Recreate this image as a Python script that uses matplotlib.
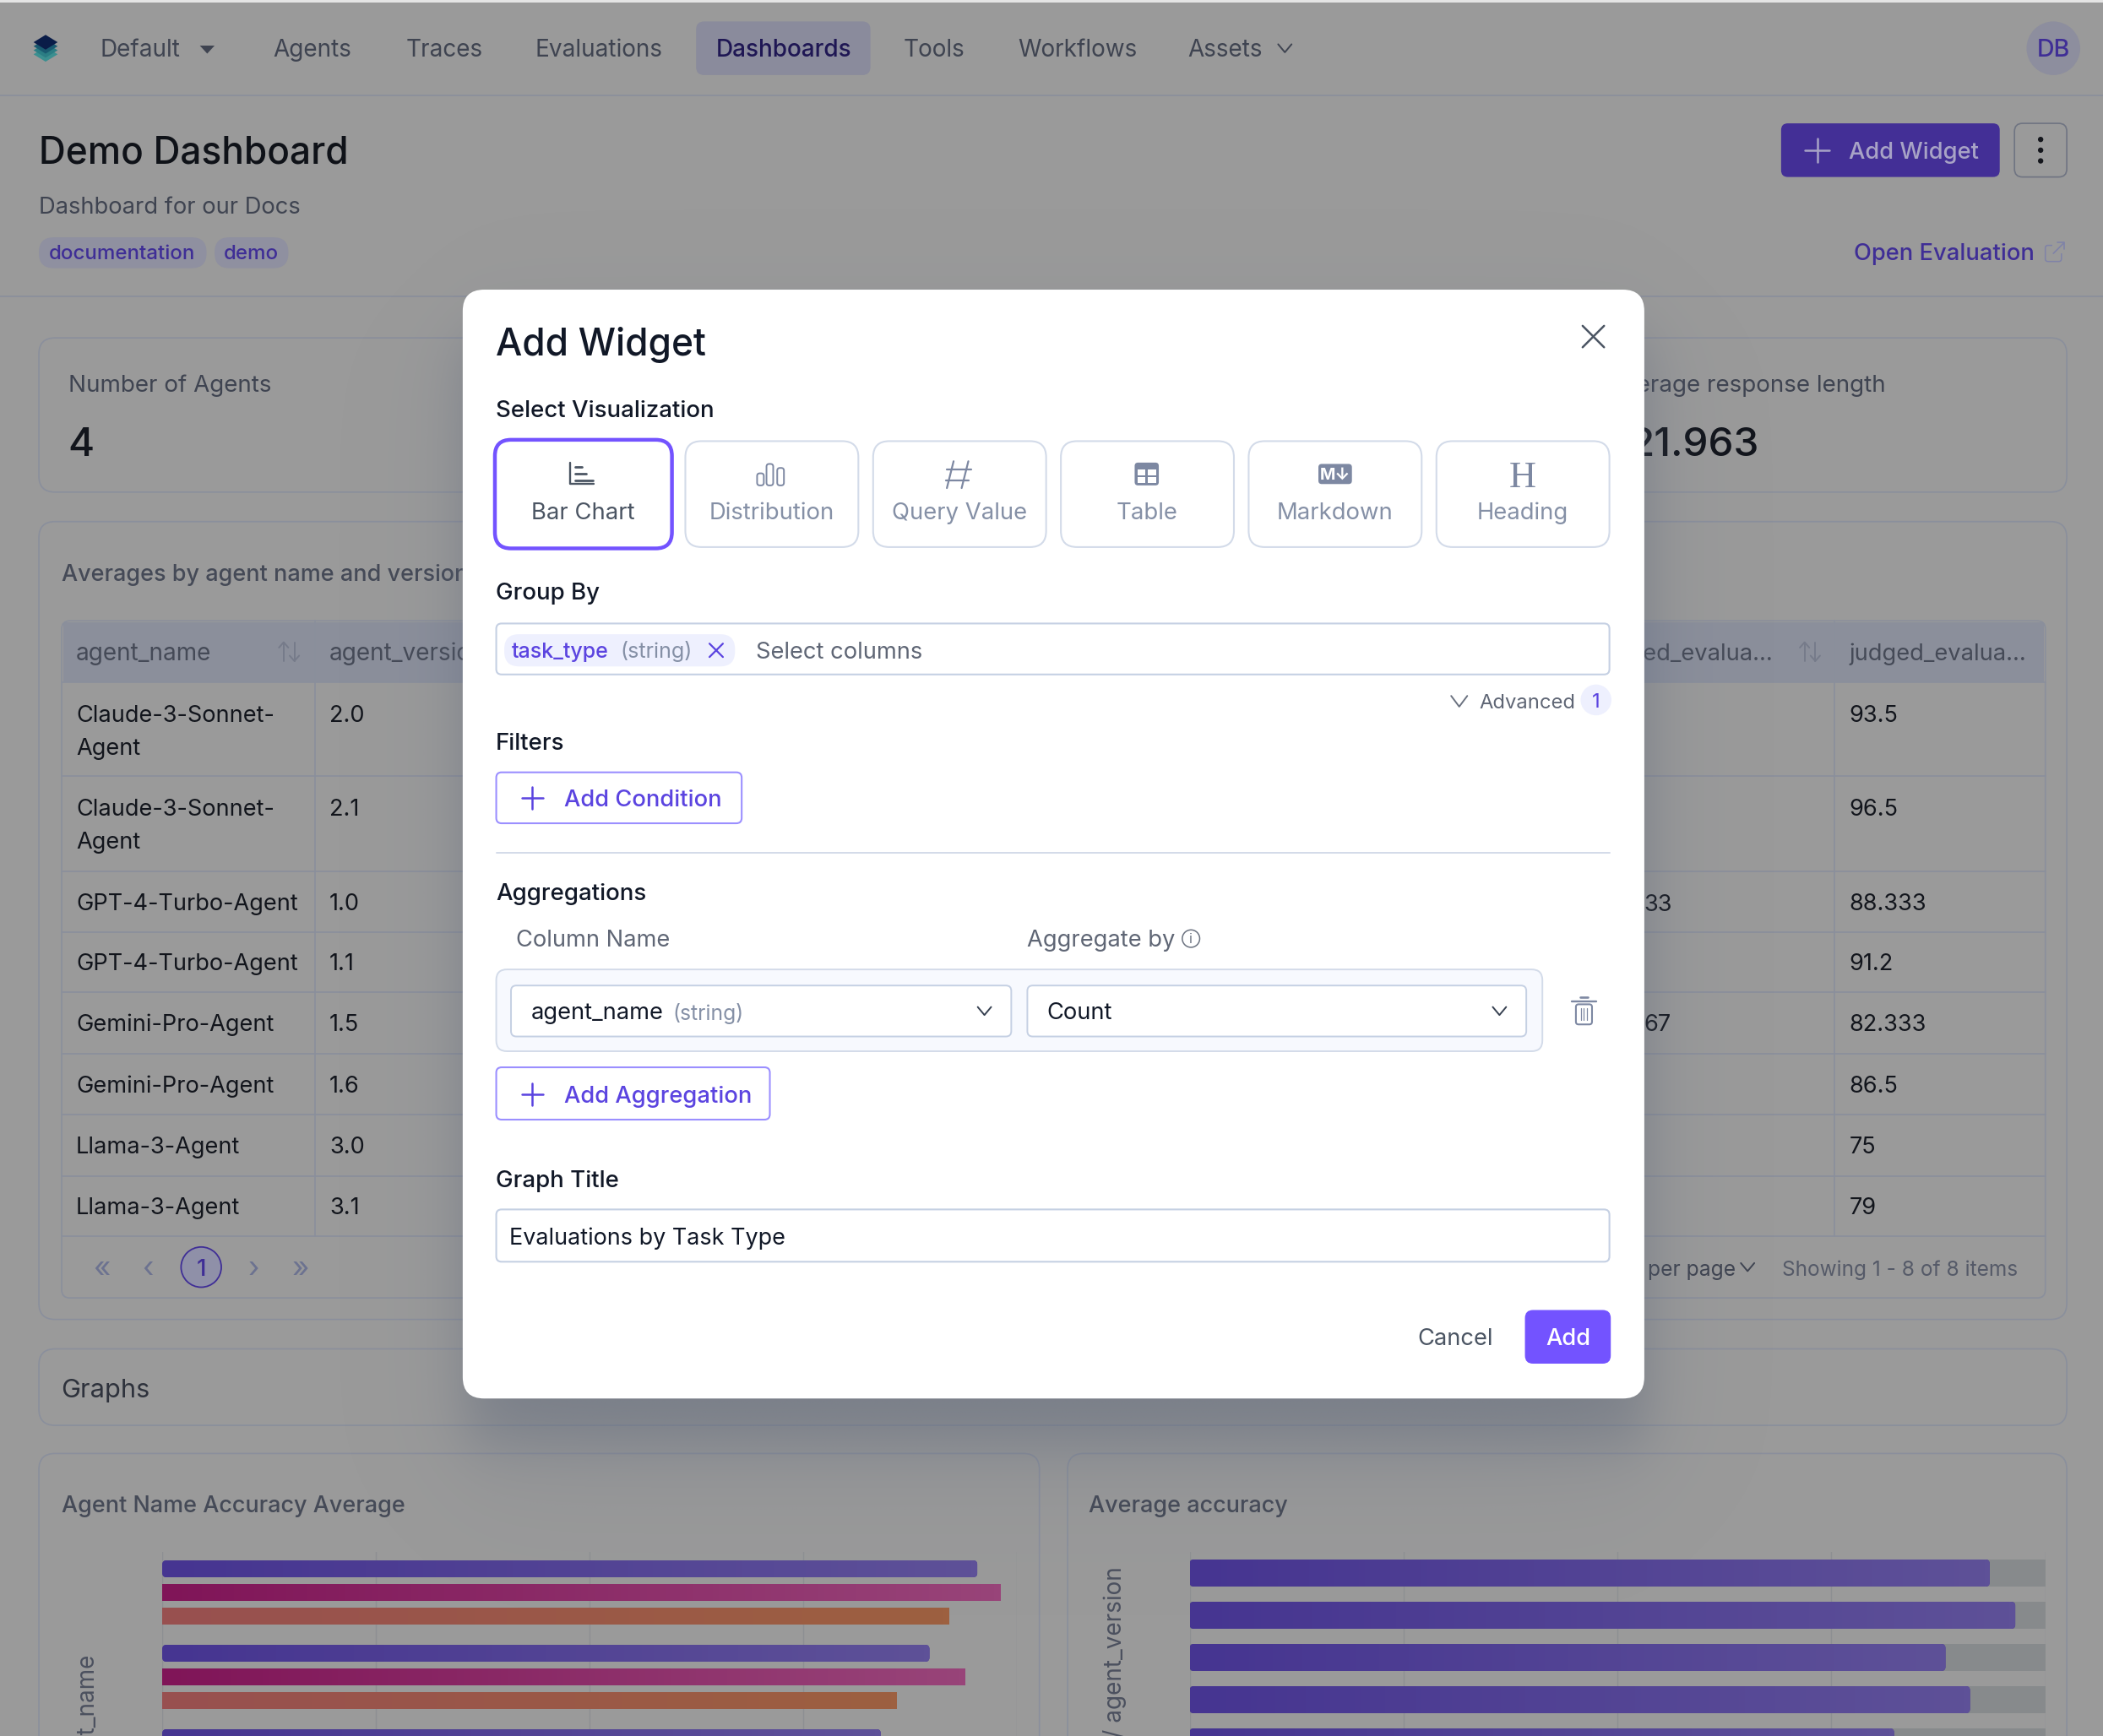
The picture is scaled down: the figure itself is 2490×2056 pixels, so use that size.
import numpy as np
import matplotlib
matplotlib.use("Agg")
import matplotlib.pyplot as plt
from matplotlib.patches import FancyBboxPatch, Circle, Polygon, Rectangle
from matplotlib.colors import LinearSegmentedColormap
from matplotlib.transforms import IdentityTransform

plt.rcParams['font.family'] = ['Inter', 'DejaVu Sans']

# ---------- data ----------
nav_items = ["Agents", "Traces", "Evaluations", "Dashboards", "Tools", "Workflows", "Assets"]
tags = ["documentation", "demo"]
agent_names = ["Claude-3-Sonnet-\nAgent", "Claude-3-Sonnet-\nAgent", "GPT-4-Turbo-Agent", "GPT-4-Turbo-Agent",
               "Gemini-Pro-Agent", "Gemini-Pro-Agent", "Llama-3-Agent", "Llama-3-Agent"]
agent_versions = ["2.0", "2.1", "1.0", "1.1", "1.5", "1.6", "3.0", "3.1"]
judged_labels = ["93.5", "96.5", "88.333", "91.2", "82.333", "86.5", "75", "79"]
judged_values = [93.5, 96.5, 88.333, 91.2, 82.333, 86.5, 75, 79]
viz_options = ["Bar Chart", "Distribution", "Query Value", "Table", "Markdown", "Heading"]
left_series_a = [95.4, 89.8, 84.1]
left_series_b = [98.1, 94.0]
left_series_c = [92.1, 86.0]
axis_ticks = [0, 25, 50, 75, 100]

# ---------- figure ----------
W, H = 2490, 2056
S = W / 1568.0
fig = plt.figure(figsize=(W / 100, H / 100), dpi=100, facecolor='#9a9a9a')
ax = fig.add_axes([0, 0, 1, 1])
ax.set_xlim(0, 1568)
ax.set_ylim(H / S, 0)
ax.axis('off')

BORDER = '#8a8f9c'
DARK = '#12151c'
MID = '#3f4451'
INDIGO = '#3f2e96'
VIOLET = '#5b44e0'
ACCENT = '#7353ff'
EDGE = '#d3dbe9'
MUTED = '#8590a6'
INK = '#111827'
GREY = '#5f6675'


def T(x, y, s, size=17.2, color=DARK, weight='normal', ha='left', z=3, **kw):
    if ha == 'left':
        x -= 0.3
    return ax.text(x, y + 0.36 * size, s, fontsize=size * S * 0.72, color=color, fontweight=weight,
                   ha=ha, va='baseline', zorder=z, **kw)


def RR(x0, y0, x1, y1, r=6, fc='none', ec='none', lw=1.2, z=1):
    p = FancyBboxPatch((x0 + r, y0 + r), x1 - x0 - 2 * r, y1 - y0 - 2 * r,
                       boxstyle=f"round,pad={r},rounding_size={r}", fc=fc, ec=ec, lw=lw, zorder=z)
    ax.add_patch(p)
    return p


def L(xs, ys, color, lw=1.2, z=3, **kw):
    ax.plot(xs, ys, color=color, lw=lw, zorder=z, solid_capstyle='round', **kw)


def plus(x, y, r, color, z=3):
    L([x - r, x + r], [y, y], color, 1.8, z)
    L([x, x], [y - r, y + r], color, 1.8, z)


def chevron(x, y, color, w=6, h=4, z=3, lw=1.4):
    L([x - w, x, x + w], [y - h, y + h, y - h], color, lw, z)


def cross(x, y, r, color, z=3, lw=1.8):
    L([x - r, x + r], [y - r, y + r], color, lw, z)
    L([x - r, x + r], [y + r, y - r], color, lw, z)


def sort_icon(x, y, color):
    L([x - 4, x - 4], [y - 7, y + 7], color, 1.4)
    L([x - 7.5, x - 4, x - 0.5], [y - 3, y - 7, y - 3], color, 1.4)
    L([x + 4, x + 4], [y - 7, y + 7], color, 1.4)
    L([x + 0.5, x + 4, x + 7.5], [y + 3, y + 7, y + 3], color, 1.4)


# ---------- page behind the modal ----------
ax.add_patch(Rectangle((0, 0), 1568, 1.6, fc='#e4e4e4', ec='none', zorder=1))
L([0, 1568], [71, 71], BORDER)
L([0, 1568], [221, 221], BORDER)

# logo
for dy, c in zip([9, 6, 3, 0], ['#3b8f90', '#2b7d84', '#1a5a70', '#0a1c48']):
    ax.add_patch(Polygon([(34, 26 + dy), (43, 31.5 + dy), (34, 37 + dy), (25, 31.5 + dy)], fc=c, ec='none', zorder=2))

NAV = 17.6
T(75, 36, "Default", size=NAV, color=MID)
ax.add_patch(Polygon([(149, 34), (160, 34), (154.5, 40)], fc=MID, ec='none', zorder=3))
RR(519, 16, 649, 56, r=6, fc='#8a8b9c')
nav_x = [204, 303, 399, 534, 674, 759, 886]
for name, x in zip(nav_items, nav_x):
    T(x, 36, name, size=NAV, color='#1f1754' if name == "Dashboards" else MID,
      weight='medium' if name == "Dashboards" else 'normal')
chevron(958, 36, MID, 5, 3)
ax.add_patch(Circle((1531, 36), 20, fc='#8d8e9e', ec='none', zorder=2))
T(1531, 36, "DB", size=18, color=INDIGO, ha='center', weight='medium')

T(29, 112, "Demo Dashboard", size=27.8, weight='medium', color='#0f1218')
T(29, 153, "Dashboard for our Docs", color=MID)
RR(29, 177, 154, 200, r=11, fc='#8f90a0')
RR(160, 177, 215, 200, r=11, fc='#8f90a0')
T(37, 188, tags[0], size=15.2, color=INDIGO, weight='medium')
T(167, 188, tags[1], size=15.2, color=INDIGO, weight='medium')

RR(1328, 92, 1491, 132, r=5, fc='#432f96')
plus(1355, 112, 9, '#a8a3c6')
T(1379, 112, "Add Widget", color='#a8a3c6', weight='medium')
RR(1502, 92, 1541, 132, r=6, ec='#6f7482')
for dy in (-8, 0, 8):
    ax.add_patch(Circle((1521.5, 112 + dy), 2, fc='#14161c', ec='none', zorder=3))
T(1517, 188, "Open Evaluation", size=17.2, color=INDIGO, ha='right', weight='medium')
RR(1525, 183, 1537, 195, r=2, ec='#7f82a8', lw=1.1)
ax.add_patch(Rectangle((1530, 180), 11, 9, fc='#9a9a9a', ec='none', zorder=3))
L([1531, 1539], [189, 181], '#7f82a8', 1.2, 4)
L([1534, 1539, 1539], [181, 181, 186], '#7f82a8', 1.2, 4)

# cards
RR(29, 252, 1541, 367, r=12, ec=BORDER)
T(51, 286, "Number of Agents", size=17.5, color=MID)
T(51, 329, "4", size=30, color=DARK, weight='medium')
T(1406, 286, "Average response length", size=17.5, color=MID, ha='right')
T(1312, 329, "21.963", size=30, color=DARK, ha='right', weight='medium')

RR(29, 389, 1541, 984, r=12, ec=BORDER)
T(46, 427, "Averages by agent name and version", size=17, color='#454a57', weight='medium')
row_y = [509, 579, 650, 695, 740, 786, 831, 877, 922]
ax.add_patch(Rectangle((47, 464), 1477, 45, fc='#8b8f9b', ec='none', zorder=1))
RR(46, 463, 1525, 968, r=6, ec=BORDER)
for y in row_y:
    L([46, 1525], [y, y], BORDER, z=2)
for x in (235, 1368):
    L([x, x], [463, 922], BORDER, z=2)
T(57, 486, "agent_name", size=17.6, color='#454a57')
T(246, 486, "agent_version", size=17.6, color='#454a57')
sort_icon(215.5, 486, '#767b8a')
T(1322, 486, "judged_evalua...", size=17.2, color='#454a57', ha='right')
sort_icon(1349.5, 486, '#767b8a')
T(1379, 486, "judged_evalua...", size=17.2, color='#454a57')
ROW = 17.1
for i, (name, ver, val) in enumerate(zip(agent_names, agent_versions, judged_labels)):
    first = 532 if i == 0 else 602 if i == 1 else (row_y[i] + row_y[i + 1]) / 2
    if '\n' in name:
        a, b = name.split('\n')
        T(57, first, a, size=ROW)
        T(57, first + 25, b, size=ROW)
    else:
        T(57, first, name, size=ROW)
    T(246, first, ver, size=ROW)
    T(1379, first, val, size=ROW)
T(1226, 673, "33", size=ROW)
T(1226, 763, "67", size=ROW)
for x, s in zip([76, 110, 189, 224], ["«", "‹", "›", "»"]):
    T(x, 944, s, size=22, color='#6c7290', ha='center')
ax.add_patch(Circle((150, 945), 15, fc='#8f90a8', ec='#3f2e96', lw=1.3, zorder=2))
T(150, 945, "1", color=INDIGO, ha='center', weight='medium')
T(1229, 946, "per page", size=15.5, color=MID)
chevron(1303, 945, MID, 5, 3)
T(1329, 946, "Showing 1 - 8 of 8 items", size=15.4, color='#555a68')

RR(29, 1006, 1541, 1063, r=12, ec=BORDER)
T(46, 1035, "Graphs", size=19.4, color='#2e323c')

RR(29, 1084, 775, 1330, r=12, ec=BORDER)
RR(796, 1084, 1541, 1330, r=12, ec=BORDER)
T(46, 1122, "Agent Name Accuracy Average", size=17, color='#454a57', weight='medium')
T(812, 1122, "Average accuracy", size=17, color='#454a57', weight='medium')
ax.text(65, 1233, "agent_name", rotation=90, fontsize=17.6 * S * 0.72, color='#4c515f', ha='center', va='top', zorder=3)
ax.text(831, 1168, "agent_name / agent_version", rotation=90, fontsize=17.6 * S * 0.72, color='#4c515f', ha='center', va='top', zorder=3)

# modal shadow
xx, yy = np.meshgrid(np.arange(0, 1568, 4.0), np.arange(0, H / S, 4.0))


def smooth(v, a, b, s):
    f = lambda t: 0.5 * (1 + np.tanh(t / s * 1.3))
    return f(v - a) * f(b - v)


shadow = 0.38 * smooth(xx, 345, 1226, 30) * smooth(yy, 250, 1075, 34) \
    + 0.13 * smooth(xx, 345, 1226, 70) * smooth(yy, 250, 1110, 70)
sh = np.zeros(shadow.shape + (4,))
sh[..., :3] = matplotlib.colors.to_rgb('#5a6478')
sh[..., 3] = shadow
ax.imshow(sh, extent=(0, 1568, H / S, 0), zorder=4, aspect='auto', interpolation='bilinear')
ax.set_xlim(0, 1568)
ax.set_ylim(H / S, 0)

# ---------- modal ----------
Z = 6
RR(345, 216, 1226, 1043, r=16, fc='white', z=5)
T(370, 255, "Add Widget", size=27.8, color=INK, weight='medium', z=Z)
cross(1188, 251, 8, '#4b5563', Z)
T(370, 305, "Select Visualization", size=17.4, color=INK, weight='medium', z=Z)

box_x = [(370, 500), (511, 640), (651, 780), (791, 920), (931, 1060), (1071, 1200)]
for i, ((a, b), label) in enumerate(zip(box_x, viz_options)):
    if i == 0:
        RR(a - 1, 328, b + 1, 409, r=12, fc='white', ec=ACCENT, lw=3.2, z=Z)
    else:
        RR(a, 329, b, 408, r=12, fc='white', ec=EDGE, lw=1.5, z=Z)
    T((a + b) / 2, 381, label, size=17.3, color='#4b5563' if i == 0 else MUTED, ha='center', z=Z + 1)

# icons
IC = '#7d88a2'
L([425, 425, 443], [345, 361, 361], '#4b5563', 1.7, Z + 1)
for y0, x1 in zip([348, 353, 358], [434, 437, 442]):
    L([429, x1], [y0, y0], '#4b5563', 2.0, Z + 1)
for x0, y0 in zip([565, 572, 580], [353, 346, 349]):
    RR(x0 - 0.5, y0, x0 + 4.5, 362, r=2, ec=IC, lw=1.4, z=Z + 1)
L([711, 706], [344, 364], IC, 1.6, Z + 1)
L([722, 717], [344, 364], IC, 1.6, Z + 1)
L([706, 724], [350, 350], IC, 1.6, Z + 1)
L([705, 722], [358, 358], IC, 1.6, Z + 1)
RR(846, 345, 864, 362, r=2.5, fc=IC, z=Z + 1)
for rx, ry in [(848, 350), (856, 350), (848, 356), (856, 356)]:
    ax.add_patch(Rectangle((rx, ry), 6, 4.5, fc='white', ec='none', zorder=Z + 2))
RR(983, 346, 1008, 361, r=2.5, fc=IC, z=Z + 1)
T(995.5, 353, "M↓", size=12.5, color='white', weight='bold', ha='center', z=Z + 2)
T(1135.5, 353, "H", size=28, color=IC, ha='center', z=Z + 1, family=['Liberation Serif'])

T(370, 441, "Group By", size=17.4, color=INK, weight='medium', z=Z)
RR(370, 465, 1200, 503, r=4, fc='white', ec='#c5d0e3', lw=1.5, z=Z)
RR(376, 473, 548, 497, r=11, fc='#eef0fe', z=Z + 1)
T(382, 485, "task_type", size=15.8, color=VIOLET, weight='medium', z=Z + 2)
T(463, 485, "(string)", size=15.8, color=MUTED, z=Z + 2)
cross(534, 485, 5, VIOLET, Z + 2, 1.6)
T(564, 485, "Select columns", color=GREY, z=Z + 2)

chevron(1088, 523, '#6b7280', 6, 4, Z)
T(1103, 523, "Advanced", size=15, color='#5f6675', z=Z)
ax.add_patch(Circle((1190, 522), 11.5, fc='#eef0fe', ec='none', zorder=Z))
T(1190, 522, "1", size=15, color=VIOLET, ha='center', z=Z + 1)

T(370, 553, "Filters", size=17.4, color=INK, weight='medium', z=Z)
RR(370, 576, 553, 614, r=4, fc='white', ec='#9b8fff', lw=1.5, z=Z)
plus(397, 595, 8, VIOLET, Z + 1)
T(421, 595, "Add Condition", color=VIOLET, weight='medium', z=Z + 1)
L([370, 1200], [636, 636], EDGE, 1.4, Z)

T(370, 665, "Aggregations", size=17.4, color=INK, weight='medium', z=Z)
T(385, 700, "Column Name", color=GREY, z=Z)
T(766, 700, "Aggregate by", color=GREY, z=Z)
ax.add_patch(Circle((888, 700), 6.5, fc='white', ec='#6b7280', lw=1.1, zorder=Z))
T(888, 700, "i", size=10, color='#6b7280', ha='center', z=Z + 1)
RR(370, 723, 1150, 784, r=8, fc='#f7f9fe', ec=EDGE, lw=1.4, z=Z)
RR(381, 735, 754, 773, r=4, fc='white', ec='#c5d0e3', lw=1.4, z=Z + 1)
RR(766, 735, 1138, 773, r=4, fc='white', ec='#c5d0e3', lw=1.4, z=Z + 1)
T(396, 754, "agent_name", z=Z + 2, color=INK)
T(502, 755, "(string)", size=15.6, color=MUTED, z=Z + 2)
T(781, 754, "Count", z=Z + 2, color=INK)
chevron(734, 754, '#374151', 5, 3, Z + 2)
chevron(1118, 754, '#374151', 5, 3, Z + 2)
RR(1175, 749, 1187, 764, r=2, ec=IC, lw=1.5, z=Z)
L([1172, 1190], [747, 747], IC, 1.7, Z)
L([1178, 1184], [744, 744], IC, 1.9, Z)
for x in (1179, 1181, 1183):
    L([x, x], [752, 761], IC, 0.9, Z)

RR(370, 796, 574, 835, r=4, fc='white', ec='#9b8fff', lw=1.5, z=Z)
plus(397, 816, 8, VIOLET, Z + 1)
T(421, 816, "Add Aggregation", color=VIOLET, weight='medium', z=Z + 1)

T(370, 879, "Graph Title", size=17.4, color=INK, weight='medium', z=Z)
RR(370, 902, 1200, 941, r=4, fc='white', ec='#c5d0e3', lw=1.5, z=Z)
T(380, 922, "Evaluations by Task Type", size=17, color=INK, z=Z + 1)
T(1057, 997, "Cancel", color='#4b5563', z=Z)
RR(1137, 977, 1201, 1017, r=6, fc=ACCENT, z=Z)
T(1169, 997, "Add", color='white', weight='medium', ha='center', z=Z + 1)


# ---------- bar charts ----------
def sub_axes(x0, x1, top_px):
    a = fig.add_axes([x0 * S / W, 0, (x1 - x0) * S / W, (H - top_px) / H], zorder=10)
    a.patch.set_alpha(0)
    a.set_xticks(axis_ticks)
    a.tick_params(length=0, labelbottom=False, labelleft=False)
    a.set_yticks([])
    a.grid(axis='x', color='#8d8f92', lw=1.0, zorder=0)
    a.set_axisbelow(True)
    for s in a.spines.values():
        s.set_visible(False)
    return a


def gradient_bar(a, y, val, h, c0, c1, r=0):
    bar = a.barh(y, val, height=h, color=c0, zorder=2)[0]
    a.set_autoscale_on(False)
    cmap = LinearSegmentedColormap.from_list('g', [c0, c1])
    im = a.imshow(np.linspace(0, 1, 128).reshape(1, -1), extent=(0, val, y + h / 2, y - h / 2),
                  cmap=cmap, aspect='auto', zorder=3)
    a.set_xlim(axis_ticks[0], axis_ticks[-1])
    a.set_ylim(*a._fixed_ylim)
    if r:
        (x0, y0), (x1, y1) = a.transData.transform([(0, y + h / 2), (val, y - h / 2)])
        clip = FancyBboxPatch((x0 + r, y0 + r), x1 - x0 - 2 * r, y1 - y0 - 2 * r,
                              boxstyle=f"round,pad={r},rounding_size={r}", transform=IdentityTransform())
        bar.set_clip_path(clip)
        im.set_clip_path(clip)
    else:
        im.set_clip_path(bar)


# left chart: bars 20 px tall, 28 px apart, groups 100 px apart (image px)
axL = sub_axes(121, 758, 1838)
unit = 28.0
axL._fixed_ylim = ((H - 1858) / unit, -20 / unit)
axL.set_xlim(axis_ticks[0], axis_ticks[-1])
axL.set_ylim(*axL._fixed_ylim)
step = 100 / unit
colors = [('#463591', '#5e5198'), ('#801558', '#984479'), ('#985050', '#9d6040')]
radii = [5, 0, 0]
for off, series, (c0, c1), rad in zip([0, 1, 2], [left_series_a, left_series_b, left_series_c], colors, radii):
    for g, v in enumerate(series):
        gradient_bar(axL, g * step + off, v, 20 / unit, c0, c1, rad)

# right chart: track + fill, 32 px tall, 50 px apart
axR = sub_axes(887, 1525, 1838)
axR._fixed_ylim = ((H - 1863) / 50, -25 / 50)
axR.set_xlim(axis_ticks[0], axis_ticks[-1])
axR.set_ylim(*axR._fixed_ylim)
for i, v in enumerate(judged_values):
    axR.barh(i, axis_ticks[-1], height=32 / 50, color='#878a8c', zorder=1)
    gradient_bar(axR, i, v, 32 / 50, '#463591', '#5e5198', 5)

fig.savefig("out.png", dpi=100, facecolor=fig.get_facecolor())
